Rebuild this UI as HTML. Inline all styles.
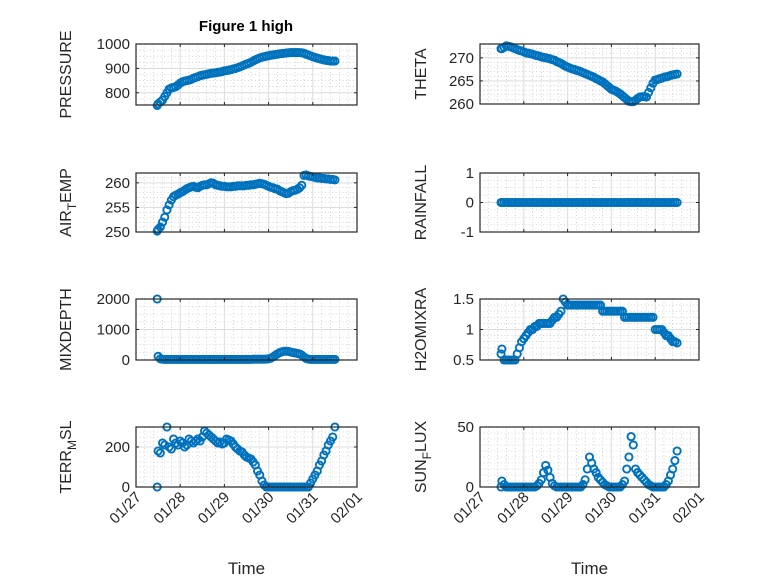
<!DOCTYPE html>
<html><head><meta charset="utf-8"><style>
html,body{margin:0;padding:0;background:#fff;}
svg{display:block;font-family:"Liberation Sans",sans-serif;}
</style></head><body>
<svg id="fig" width="778" height="583" viewBox="0 0 778 583" xmlns="http://www.w3.org/2000/svg">
<rect width="778" height="583" fill="#fff"/>
<text x="246" y="31" text-anchor="middle" font-size="15" font-weight="bold" fill="#000">Figure 1 high</text>
</svg>
<script>
const times=[27.48,27.50,27.55,27.60,27.65,27.70,27.75,27.80,27.85,27.90,27.95,28.00,28.05,28.10,28.15,28.20,28.25,28.30,28.35,28.40,28.45,28.50,28.55,28.60,28.65,28.70,28.75,28.80,28.85,28.90,28.95,29.00,29.05,29.10,29.15,29.20,29.25,29.30,29.35,29.40,29.45,29.50,29.55,29.60,29.65,29.70,29.75,29.80,29.85,29.90,29.95,30.00,30.05,30.10,30.15,30.20,30.25,30.30,30.35,30.40,30.45,30.50,30.55,30.60,30.65,30.70,30.75,30.80,30.85,30.90,30.95,31.00,31.05,31.10,31.15,31.20,31.25,31.30,31.35,31.40,31.45,31.50];
const pressure=[748,755,762,770,785,800,815,820,822,825,832,840,845,848,850,852,855,860,863,866,870,872,874,876,878,880,881,882,884,885,887,890,891,893,895,898,900,903,906,910,914,918,921,925,930,935,939,943,946,948,950,952,954,955,957,958,960,961,962,963,964,965,965,965,965,965,964,962,958,955,951,948,945,942,940,937,935,933,932,930,930,930];
const theta=[272,272,272.3,272.6,272.5,272.4,272.2,272,271.8,271.6,271.5,271.3,271.1,271,270.9,270.8,270.6,270.5,270.4,270.2,270.1,270,269.9,269.8,269.6,269.5,269.2,269,268.8,268.5,268.2,268,267.8,267.6,267.5,267.3,267.2,267,266.8,266.6,266.4,266.2,266,265.8,265.5,265.3,265,264.8,264.4,264,263.6,263.2,263,262.8,262.5,262.2,261.8,261.4,261,260.6,260.5,260.5,260.8,261.2,261.5,261.6,261.6,261.5,262.5,263.5,264.5,265.2,265.3,265.5,265.6,265.8,265.9,266,266.2,266.3,266.4,266.5];
const airTemp=[250.2,250.5,251,252,253,254.5,255.5,256.5,257.2,257.5,257.7,258,258.2,258.5,258.8,259,259.2,259.3,259.1,259,259.3,259.5,259.6,259.6,259.8,260,259.9,259.6,259.5,259.4,259.3,259.3,259.2,259.2,259.2,259.3,259.3,259.4,259.4,259.4,259.4,259.5,259.5,259.6,259.6,259.7,259.8,259.9,259.8,259.7,259.5,259.3,259.1,259,258.8,258.7,258.4,258.2,258,257.8,257.9,258.2,258.4,258.5,258.7,259,259.5,261.5,261.6,261.4,261.3,261.2,261.1,261,261,260.9,260.9,260.8,260.8,260.7,260.7,260.6];
const rainfall=[0,0,0,0,0,0,0,0,0,0,0,0,0,0,0,0,0,0,0,0,0,0,0,0,0,0,0,0,0,0,0,0,0,0,0,0,0,0,0,0,0,0,0,0,0,0,0,0,0,0,0,0,0,0,0,0,0,0,0,0,0,0,0,0,0,0,0,0,0,0,0,0,0,0,0,0,0,0,0,0,0,0];
const mixDepth=[2000,120,40,25,20,20,20,20,20,20,20,20,20,20,20,20,20,20,20,20,20,20,20,20,20,20,20,20,20,20,20,20,20,20,20,20,20,20,20,20,20,20,20,20,25,25,25,25,25,25,30,40,60,100,150,200,240,270,285,290,280,260,245,230,215,200,160,100,50,30,20,20,20,20,20,20,20,20,20,20,20,20];
const h2oMix=[0.6,0.68,0.5,0.5,0.5,0.5,0.5,0.5,0.6,0.7,0.8,0.85,0.9,0.95,1.0,1.0,1.05,1.05,1.1,1.1,1.1,1.1,1.1,1.1,1.15,1.2,1.2,1.25,1.3,1.5,1.45,1.4,1.4,1.4,1.4,1.4,1.4,1.4,1.4,1.4,1.4,1.4,1.4,1.4,1.4,1.4,1.4,1.3,1.3,1.3,1.3,1.3,1.3,1.3,1.3,1.3,1.3,1.2,1.2,1.2,1.2,1.2,1.2,1.2,1.2,1.2,1.2,1.2,1.2,1.2,1.2,1.0,1.0,1.0,1.0,0.95,0.9,0.9,0.85,0.8,0.8,0.78];
const terrMsl=[0,180,170,220,210,300,200,190,240,220,210,230,220,200,210,240,230,220,230,240,230,250,280,270,260,250,240,230,220,225,215,220,240,235,230,215,200,190,180,175,160,150,145,140,125,110,80,60,30,10,0,0,0,0,0,0,0,0,0,0,0,0,0,0,0,0,0,0,0,0,20,40,60,80,110,130,160,180,210,230,250,300];
const sunFlux=[0,5,2,0,0,0,0,0,0,0,0,0,0,0,0,0,0,1,3,6,12,18,14,8,3,1,0,0,0,0,0,0,0,0,0,0,0,0,2,6,15,25,20,15,12,8,6,4,2,1,0,0,0,0,0,0,2,5,15,25,42,35,15,12,10,8,6,4,2,1,0,0,0,0,0,0,2,5,10,15,22,30];
const xTickLabels=["01/27","01/28","01/29","01/30","01/31","02/01"];
const xTickValues=[27,28,29,30,31,32];

const NS="http://www.w3.org/2000/svg";
const svg=document.getElementById('fig');
function mk(tag,attrs,parent){const e=document.createElementNS(NS,tag);for(const k in attrs)e.setAttribute(k,attrs[k]);(parent||svg).appendChild(e);return e;}

const panels=[
 {name:'pressure',x0:136,x1:357,y0:44,y1:105,ymin:750,ymax:1000,ticks:[800,900,1000],data:pressure,label:['PRESSURE']},
 {name:'theta',x0:480,x1:699,y0:44,y1:104,ymin:260,ymax:273,ticks:[260,265,270],data:theta,label:['THETA']},
 {name:'air-temp',x0:136,x1:357,y0:173,y1:232,ymin:250,ymax:262,ticks:[250,255,260],data:airTemp,label:['AIR','T','EMP']},
 {name:'rainfall',x0:480,x1:699,y0:173,y1:232,ymin:-1,ymax:1,ticks:[-1,0,1],data:rainfall,label:['RAINFALL']},
 {name:'mixdepth',x0:136,x1:357,y0:299,y1:360,ymin:0,ymax:2000,ticks:[0,1000,2000],data:mixDepth,label:['MIXDEPTH']},
 {name:'h2omixra',x0:480,x1:699,y0:299,y1:360,ymin:0.5,ymax:1.5,ticks:[0.5,1,1.5],data:h2oMix,label:['H2OMIXRA']},
 {name:'terr-msl',x0:136,x1:357,y0:427,y1:487,ymin:0,ymax:300,ticks:[0,200],data:terrMsl,label:['TERR','M','SL'],xl:true},
 {name:'sun-flux',x0:480,x1:699,y0:427,y1:487,ymin:0,ymax:50,ticks:[0,50],data:sunFlux,label:['SUN','F','LUX'],xl:true}
];
const minorY={pressure:25,theta:1,'air-temp':1,rainfall:0.25,mixdepth:250,h2omixra:0.1,'terr-msl':25,'sun-flux':5};
const labXMap={pressure:71,theta:426,'air-temp':71,rainfall:426,mixdepth:71,h2omixra:426,'terr-msl':71,'sun-flux':426};
panels.forEach(p=>{
 const g=mk('g',{});
 
 
 const sx=v=>p.x0+(v-27)/(32-27)*(p.x1-p.x0);
 const sy=v=>p.y1-(v-p.ymin)/(p.ymax-p.ymin)*(p.y1-p.y0);
 for(let d=27;d<32;d+=1){for(let k=1;k<5;k++){const x=sx(d+k/5);mk('line',{x1:x,x2:x,y1:p.y0,y2:p.y1,stroke:'#b8b8b8','stroke-width':0.6,'stroke-dasharray':'1 2.5'},g);}}
 const mv=minorY[p.name];
 for(let v=p.ymin+mv;v<p.ymax-1e-9;v+=mv){const y=sy(v);mk('line',{x1:p.x0,x2:p.x1,y1:y,y2:y,stroke:'#b8b8b8','stroke-width':0.6,'stroke-dasharray':'1 2.5'},g);}
 xTickValues.forEach(v=>{const x=sx(v);mk('line',{x1:x,x2:x,y1:p.y0,y2:p.y1,stroke:'#dcdcdc','stroke-width':1},g);});
 p.ticks.forEach(v=>{const y=sy(v);mk('line',{x1:p.x0,x2:p.x1,y1:y,y2:y,stroke:'#dcdcdc','stroke-width':1},g);});
 p.data.forEach((v,i)=>{
  const c=mk('circle',{cx:sx(times[i]),cy:sy(v),r:3.6,fill:'none',stroke:'#0072BD','stroke-width':1.9},g);
  
  
 });
 mk('rect',{x:p.x0,y:p.y0,width:p.x1-p.x0,height:p.y1-p.y0,fill:'none',stroke:'#262626','stroke-width':1.2},g);
 xTickValues.forEach(v=>{const x=sx(v);mk('line',{x1:x,x2:x,y1:p.y1,y2:p.y1-3,stroke:'#262626'},g);mk('line',{x1:x,x2:x,y1:p.y0,y2:p.y0+3,stroke:'#262626'},g);});
 p.ticks.forEach(v=>{
  const y=sy(v);
  mk('line',{x1:p.x0,x2:p.x0+3,y1:y,y2:y,stroke:'#262626'},g);
  mk('line',{x1:p.x1,x2:p.x1-3,y1:y,y2:y,stroke:'#262626'},g);
  const t=mk('text',{x:p.x0-6,y:y+5,'text-anchor':'end','font-size':15,fill:'#262626'},g);
  
  
  t.textContent=String(v);
 });
 const labX=labXMap[p.name];
 const cy=(p.y0+p.y1)/2;
 const yl=mk('text',{x:0,y:0,'text-anchor':'middle','font-size':16,fill:'#262626',transform:`translate(${labX},${cy}) rotate(-90)`},g);
 
 
 if(p.label.length===1){yl.textContent=p.label[0];}
 else{
  const a=mk('tspan',{},yl);a.textContent=p.label[0];
  const b=mk('tspan',{dy:5,'font-size':12},yl);b.textContent=p.label[1];
  const c=mk('tspan',{dy:-5},yl);c.textContent=p.label[2];
 }
 if(p.xl){
  xTickLabels.forEach((s,i)=>{
   const x=sx(xTickValues[i]);
   const t=mk('text',{x:0,y:0,'text-anchor':'end','font-size':15,fill:'#262626',transform:`translate(${x+6},${p.y1+11}) rotate(-45)`},g);
   
   
   t.textContent=s;
  });
  const xt=mk('text',{x:(p.x0+p.x1)/2,y:574,'text-anchor':'middle','font-size':17,fill:'#262626'},g);
  
  
  xt.textContent='Time';
 }
});
</script>
</body></html>
